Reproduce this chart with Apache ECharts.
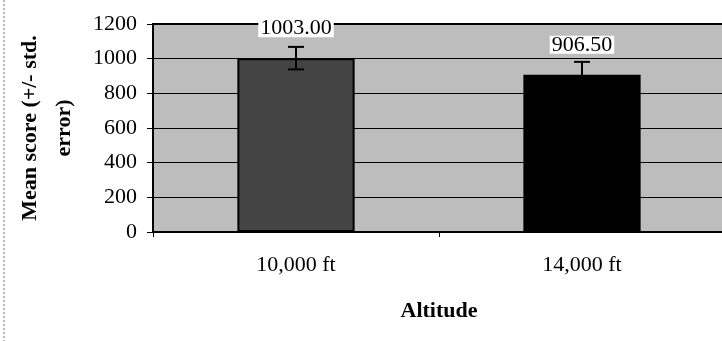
<!DOCTYPE html>
<html>
<head>
<meta charset="utf-8">
<script src="https://cdn.jsdelivr.net/npm/echarts@6/dist/echarts.min.js"></script>
<style>
  html, body { margin: 0; padding: 0; background: #fff; }
  #chart { width: 722px; height: 341px; }
</style>
</head>
<body>
<div id="chart"></div>
<script>
// data
var categories = ['10,000 ft', '14,000 ft']
var means = [1003.00, 906.50]
var stdErrors = [65, 75]
var yTicks = [0, 200, 400, 600, 800, 1000, 1200]

var barColors = ['#444444', '#000000']
var font = "'Liberation Serif', 'Times New Roman', serif"

var chart = echarts.init(document.getElementById('chart'))

chart.setOption({
  animation: false,
  textStyle: { fontFamily: font },
  grid: {
    show: true,
    left: 153,
    right: -3,
    top: 24,
    bottom: 109,
    outerBoundsMode: 'none',
    containLabel: false,
    backgroundColor: '#bdbdbd',
    borderColor: '#000',
    borderWidth: 2
  },
  graphic: [
    // dotted page border on the left
    {
      type: 'line',
      shape: { x1: 4, y1: 0, x2: 4, y2: 341 },
      style: { stroke: '#777', lineWidth: 1, lineDash: [2, 2] }
    }
  ],
  xAxis: {
    type: 'category',
    data: categories,
    name: 'Altitude',
    nameLocation: 'middle',
    nameGap: 68,
    nameTextStyle: { fontFamily: font, fontSize: 22, fontWeight: 'bold', color: '#000' },
    axisLine: { lineStyle: { color: '#000', width: 2 } },
    axisTick: { show: true, length: 5, lineStyle: { color: '#000' } },
    axisLabel: { fontFamily: font, fontSize: 22, color: '#000', margin: 22 }
  },
  yAxis: {
    type: 'value',
    min: yTicks[0],
    max: yTicks[yTicks.length - 1],
    interval: yTicks[1] - yTicks[0],
    name: 'Mean score (+/- std.\nerror)',
    nameLocation: 'middle',
    nameGap: 72,
    nameTextStyle: {
      fontFamily: font, fontSize: 22, fontWeight: 'bold', color: '#000',
      lineHeight: 34
    },
    axisLine: { show: true, lineStyle: { color: '#000', width: 2 } },
    axisTick: { show: true, length: 6, lineStyle: { color: '#000' } },
    axisLabel: {
      fontFamily: font, fontSize: 22, color: '#000', margin: 16,
      formatter: function (v) { return String(v) }
    },
    splitLine: { show: true, lineStyle: { color: '#000', width: 1 } }
  },
  series: [
    {
      type: 'bar',
      barWidth: '41%',
      data: means.map(function (v, i) {
        return { value: v, itemStyle: { color: barColors[i] } }
      }),
      itemStyle: { borderColor: '#000', borderWidth: 2 },
      label: {
        show: true,
        position: 'top',
        distance: 21,
        formatter: function (p) { return p.value.toFixed(2) },
        fontFamily: font,
        fontSize: 22,
        color: '#000',
        backgroundColor: '#fff',
        padding: [0, 2, -1, 2],
        lineHeight: 19
      },
      z: 2
    },
    // error bars
    {
      type: 'custom',
      data: means.map(function (v, i) {
        return [i, v - stdErrors[i], v + stdErrors[i]]
      }),
      renderItem: function (params, api) {
        var lo = api.coord([api.value(0), api.value(1)])
        var hi = api.coord([api.value(0), api.value(2)])
        var half = 8
        var style = { stroke: '#000', lineWidth: 2 }
        return {
          type: 'group',
          children: [
            { type: 'line', shape: { x1: hi[0], y1: hi[1], x2: lo[0], y2: lo[1] }, style: style },
            { type: 'line', shape: { x1: hi[0] - half, y1: hi[1], x2: hi[0] + half, y2: hi[1] }, style: style },
            { type: 'line', shape: { x1: lo[0] - half, y1: lo[1], x2: lo[0] + half, y2: lo[1] }, style: style }
          ]
        }
      },
      z: 3
    }
  ]
})
</script>
</body>
</html>
